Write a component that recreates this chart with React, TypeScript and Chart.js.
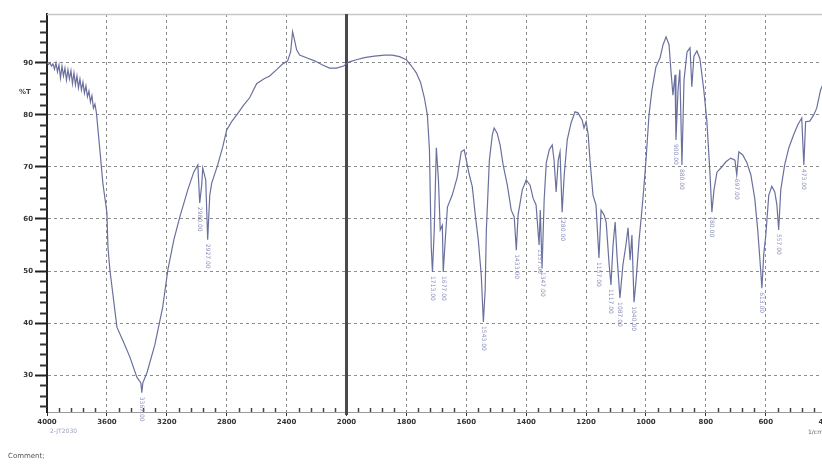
import React, { useEffect, useRef } from "react";
import { Chart, registerables } from "chart.js";

Chart.register(...registerables);

// IR spectrum: wavenumber (1/cm) and transmittance (%T)
const wavenumbers = [
  4000, 3990, 3980, 3970, 3960, 3950, 3940, 3930, 3920, 3910, 3900, 3890, 3880, 3870, 3860, 3850,
  3840, 3830, 3820, 3810, 3800, 3790, 3780, 3770, 3760, 3750, 3740, 3730, 3720, 3710, 3700, 3690,
  3680, 3670,
  3647, 3627, 3600, 3593, 3580, 3533, 3487, 3447, 3400, 3373, 3367, 3360, 3333, 3280, 3227, 3193,
  3153, 3113, 3060, 3020, 2993, 2980, 2967, 2960, 2940, 2927, 2913, 2900, 2860, 2827, 2800, 2767,
  2733, 2687, 2647, 2600, 2553, 2513, 2467, 2427, 2393, 2373, 2360, 2347, 2333, 2313, 2267, 2213,
  2160, 2113, 2067, 2020, 1990, 1967, 1940, 1907, 1873, 1847, 1823, 1800, 1783, 1767, 1753, 1740,
  1730, 1723, 1720, 1717, 1713, 1707, 1700, 1693, 1687, 1680, 1677, 1670, 1663, 1647, 1630, 1617,
  1607, 1600, 1590, 1580, 1570, 1560, 1550, 1543, 1537, 1533, 1523, 1513, 1507, 1497, 1487, 1477,
  1463, 1450, 1440, 1433, 1427, 1413, 1400, 1387, 1377, 1367, 1357, 1353, 1347, 1340, 1333, 1323,
  1313, 1307, 1300, 1293, 1287, 1280, 1273, 1263, 1250, 1237, 1227, 1213, 1207, 1200, 1193, 1187,
  1177, 1167, 1157, 1150, 1140, 1133, 1123, 1117, 1110, 1103, 1097, 1087, 1077, 1067, 1060, 1053,
  1047, 1040, 1033, 1023, 1013, 1007, 1000, 990, 980, 967, 953, 943, 933, 923, 917, 910,
  903, 900, 893, 887, 880, 873, 863, 853, 847, 840, 830, 820, 807, 797, 787, 780,
  773, 763, 750, 733, 717, 703, 697, 690, 677, 663, 650, 637, 627, 620, 613, 607,
  600, 590, 580, 570, 563, 557, 550, 537, 523, 507, 493, 480, 473, 467, 453, 440,
  430, 417, 403,
];
const transmittance = [
  90.0, 89.7, 90.0, 89.4, 89.8, 88.8, 90.0, 88.3, 89.6, 87.1, 89.4, 87.5, 89.0, 86.7, 88.7, 86.9,
  88.5, 86.0, 88.1, 85.8, 87.5, 85.2, 86.9, 84.8, 86.3, 84.2, 85.6, 83.5, 84.6, 82.5, 83.7, 81.3,
  82.1, 80.4,
  73.3, 66.9, 61.2, 54.6, 50.2, 39.2, 36.2, 33.5, 29.6, 28.5, 26.6, 28.5, 30.4, 35.8, 43.1, 50.2,
  56.0, 60.4, 65.6, 69.0, 70.4, 63.1, 66.5, 69.8, 67.5, 56.0, 64.6, 66.9, 70.4, 73.8, 77.1, 78.7,
  80.0, 81.9, 83.3, 86.0, 86.9, 87.5, 88.7, 89.8, 90.4, 92.1, 96.0, 94.4, 92.5, 91.5, 91.0, 90.4,
  89.6, 89.0, 89.0, 89.4, 90.2, 90.6, 91.0, 91.3, 91.5, 91.5, 91.2, 90.6, 89.4, 88.1, 86.3, 83.3,
  80.0, 73.3, 63.7, 54.6, 49.8, 57.9, 73.7, 67.5, 57.9, 58.8, 49.8, 56.2, 62.3, 64.6, 68.1, 72.9,
  73.3, 71.3, 68.5, 66.2, 60.8, 56.0, 49.2, 40.2, 46.3, 57.9, 71.3, 76.2, 77.5, 76.5, 74.2, 70.4,
  66.5, 61.7, 60.4, 54.0, 60.8, 65.6, 67.5, 66.5, 64.0, 62.7, 55.0, 61.7, 50.6, 63.7, 70.8, 73.3,
  74.2, 71.3, 65.2, 71.3, 72.9, 61.3, 68.5, 75.2, 78.5, 80.6, 80.4, 79.0, 77.5, 78.7, 76.2, 71.3,
  64.6, 62.7, 52.5, 61.7, 60.8, 59.4, 51.2, 47.3, 55.0, 59.4, 53.1, 44.8, 51.2, 55.0, 58.3, 52.1,
  56.9, 44.0, 48.3, 56.0, 62.1, 66.2, 71.3, 80.0, 84.8, 89.2, 91.0, 93.5, 95.0, 93.5, 88.7, 83.8,
  87.7, 75.2, 84.8, 88.7, 70.4, 86.7, 92.1, 92.9, 85.4, 91.3, 92.3, 90.8, 84.8, 79.0, 69.4, 61.3,
  65.6, 69.0, 69.8, 71.0, 71.7, 71.3, 68.5, 72.9, 72.3, 70.8, 68.5, 64.0, 57.9, 52.5, 46.7, 53.1,
  56.9, 64.6, 66.3, 65.2, 62.7, 57.9, 65.6, 70.4, 73.7, 76.2, 78.1, 79.4, 70.4, 78.7, 78.8, 80.0,
  81.3, 84.8, 86.7,
];

// axis labels
const xTickWavenumbers = [4000, 3600, 3200, 2800, 2400, 2000, 1800, 1600, 1400, 1200, 1000, 800, 600, 400];
const yTickValues = [30, 40, 50, 60, 70, 80, 90];

// picked peaks (labels printed under the dips)
const peakWavenumbers = [3367, 2980, 2927, 1713, 1677, 1543, 1433, 1357, 1347, 1280, 1157, 1117, 1087, 1040, 900, 880, 780, 697, 613, 557, 473];

const Y_MIN = 22.9;
const Y_MAX = 99.4;

// IR spectra change scale at 2000 1/cm (4000-2000 compressed 2x)
const toPos = (w: number) => (w >= 2000 ? (4000 - w) / 400 : 5 + (2000 - w) / 200);
const toWn = (p: number) => (p <= 5 ? 4000 - 400 * p : 2000 - 200 * (p - 5));

const FONT = "'DejaVu Sans', sans-serif";

const decorPlugin = {
  id: "irDecor",
  beforeDatasetsDraw(chart: any) {
    const { ctx, chartArea, scales } = chart;
    const x = scales.x;
    ctx.save();
    // top frame line
    ctx.strokeStyle = "#c8c8c8";
    ctx.lineWidth = 1.5;
    ctx.beginPath();
    ctx.moveTo(chartArea.left, chartArea.top + 0.5);
    ctx.lineTo(chartArea.right + 10, chartArea.top + 0.5);
    ctx.stroke();
    // scale-change line at 2000
    const px = x.getPixelForValue(toPos(2000));
    ctx.strokeStyle = "#4a4a4a";
    ctx.lineWidth = 3;
    ctx.beginPath();
    ctx.moveTo(px, chartArea.top);
    ctx.lineTo(px, chartArea.bottom + 3);
    ctx.stroke();
    ctx.restore();
  },
  afterDraw(chart: any) {
    const { ctx, chartArea, scales } = chart;
    const x = scales.x;
    const y = scales.y;
    ctx.save();
    // y minor ticks
    ctx.strokeStyle = "#333";
    ctx.lineWidth = 2;
    for (let v = 24; v <= 98; v += 2) {
      if (v % 10 === 0) continue;
      const py = Math.round(y.getPixelForValue(v)) + 0.5;
      ctx.beginPath();
      ctx.moveTo(chartArea.left - 7, py);
      ctx.lineTo(chartArea.left, py);
      ctx.stroke();
    }
    // x minor ticks
    ctx.lineWidth = 1.5;
    ctx.strokeStyle = "#444";
    for (let i = 0; i < xTickWavenumbers.length - 1; i++) {
      const a = toPos(xTickWavenumbers[i]);
      for (let k = 1; k < 5; k++) {
        const px = Math.round(x.getPixelForValue(a + k / 5)) + 0.5;
        ctx.beginPath();
        ctx.moveTo(px, chartArea.bottom - 4);
        ctx.lineTo(px, chartArea.bottom);
        ctx.stroke();
      }
    }
    // peak labels
    ctx.fillStyle = "#8a8fba";
    ctx.font = `6px ${FONT}`;
    ctx.textAlign = "left";
    ctx.textBaseline = "middle";
    peakWavenumbers.forEach((w) => {
      const idx = wavenumbers.indexOf(w);
      if (idx < 0) return;
      const px = x.getPixelForValue(toPos(w));
      const py = y.getPixelForValue(transmittance[idx]);
      ctx.save();
      ctx.translate(px, py + 4);
      ctx.rotate(Math.PI / 2);
      ctx.fillText(w.toFixed(2), 0, 0);
      ctx.restore();
    });
    // unit labels and comments
    ctx.fillStyle = "#444";
    ctx.font = `bold 7px ${FONT}`;
    ctx.textAlign = "center";
    ctx.fillText("%T", 25, 92);
    ctx.font = `6px ${FONT}`;
    ctx.fillStyle = "#666";
    ctx.textAlign = "left";
    ctx.fillText("1/cm", 808, 432);
    ctx.fillStyle = "#9aa0c0";
    ctx.fillText("2-JT2030", 50, 431);
    ctx.fillStyle = "#555";
    ctx.font = `7px ${FONT}`;
    ctx.fillText("Comment;", 8, 456);
    ctx.restore();
  },
};

export default function App() {
  const canvasRef = useRef<HTMLCanvasElement | null>(null);

  useEffect(() => {
    if (!canvasRef.current) return;
    const points = wavenumbers.map((w, i) => ({ x: toPos(w), y: transmittance[i] }));
    const chart = new Chart(canvasRef.current, {
      type: "line",
      data: {
        datasets: [
          {
            label: "%T",
            data: points,
            borderColor: "rgba(98,104,152,0.95)",
            borderWidth: 1.2,
            pointRadius: 0,
            tension: 0,
            fill: false,
          },
        ],
      },
      options: {
        animation: false,
        responsive: false,
        layout: { padding: { top: 14, right: 8, left: 0, bottom: 0 } },
        plugins: { legend: { display: false }, tooltip: { enabled: false } },
        scales: {
          x: {
            type: "linear",
            min: 0,
            max: toPos(400),
            afterBuildTicks: (scale: any) => {
              scale.ticks = xTickWavenumbers.map((w) => ({ value: toPos(w) }));
            },
            afterFit: (scale: any) => {
              scale.height = 53;
            },
            ticks: {
              autoSkip: false,
              maxRotation: 0,
              padding: 2,
              color: "#333",
              font: { family: FONT, size: 7, weight: "bold" },
              callback: (v: any) => String(Math.round(toWn(Number(v)))),
            },
            grid: {
              color: (c: any) =>
                c.tick && Math.abs(c.tick.value - toPos(2000)) < 1e-6 ? "rgba(0,0,0,0)" : "#8c8c8c",
              lineWidth: 1,
              tickLength: 4,
              tickColor: "#333",
              tickBorderDash: [],
            },
            border: { display: true, color: "#9a9a9a", width: 1, dash: [3, 3] },
          },
          y: {
            type: "linear",
            min: Y_MIN,
            max: Y_MAX,
            afterBuildTicks: (scale: any) => {
              scale.ticks = yTickValues.map((v) => ({ value: v }));
            },
            afterFit: (scale: any) => {
              scale.width = 47;
            },
            ticks: {
              padding: 2,
              color: "#333",
              font: { family: FONT, size: 7, weight: "bold" },
            },
            grid: {
              color: "#8c8c8c",
              lineWidth: 1,
              tickLength: 12,
              tickColor: "#222",
              tickWidth: 2,
              tickBorderDash: [],
            },
            border: { display: true, color: "#222", width: 2, dash: [3, 3] },
          },
        },
      },
      plugins: [decorPlugin],
    });
    return () => chart.destroy();
  }, []);

  return (
    <div style={{ position: "fixed", left: 0, top: 0, width: 835, height: 465, background: "#fff" }}>
      <canvas ref={canvasRef} width={835} height={465} style={{ width: 835, height: 465, display: "block" }} />
    </div>
  );
}
